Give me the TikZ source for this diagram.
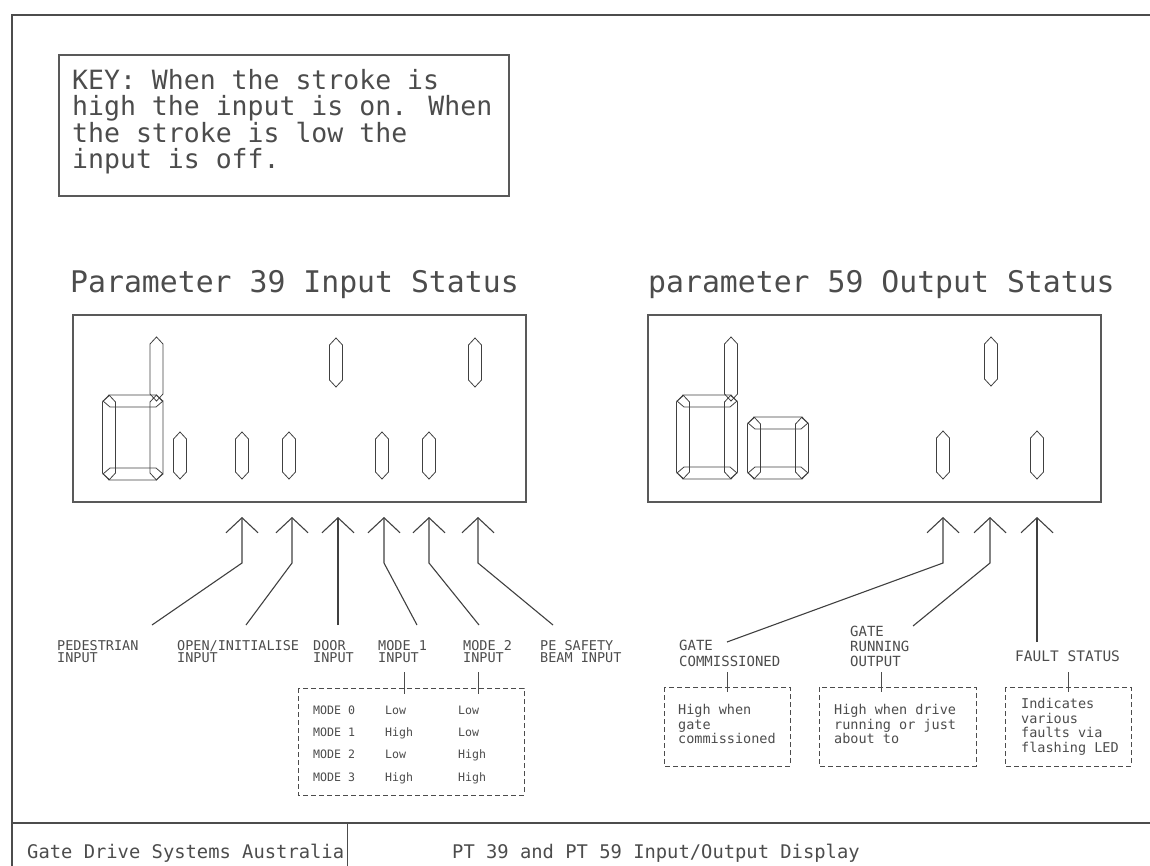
\documentclass[tikz,border=0pt]{standalone}
\usepackage{fontspec}
\newfontfamily\cadfont{DejaVu Sans Mono}
\usetikzlibrary{arrows.meta}

% one lit stroke of the display, vertical or horizontal
\newcommand{\vstroke}[3]{\draw[seg] (#1-6.5,#2+7) -- (#1,#2) -- (#1+6.5,#2+7) -- (#1+6.5,#3-7) -- (#1,#3) -- (#1-6.5,#3-7) -- cycle;}
\newcommand{\hstroke}[3]{\draw[seg] (#2+7,#1-6) -- (#2,#1) -- (#2+7,#1+6) -- (#3-7,#1+6) -- (#3,#1) -- (#3-7,#1-6) -- cycle;}

\begin{document}
\begin{tikzpicture}[x=1pt,y=-1pt,
    seg/.style={draw=black!75,line width=0.8pt},
    panel/.style={draw=black!65,line width=1.4pt},
    frame/.style={draw=black!70,line width=1.5pt},
    pointer/.style={draw=black!75,line width=1.1pt,-{Straight Barb[length=15pt,width=32pt]}},
    legend/.style={draw=black!70,line width=0.9pt,dash pattern=on 5pt off 3pt},
    tick/.style={draw=black!70,line width=0.9pt},
    txt/.style={inner sep=0pt,align=left,text=black!70},
    lbl/.style={txt,anchor=north west,font=\cadfont\fontsize{13.5}{12}\selectfont},
    note/.style={txt,anchor=north west,font=\cadfont\fontsize{13.5}{14.7}\selectfont},
    cell/.style={txt,anchor=base west,font=\cadfont\fontsize{11.6}{12}\selectfont}]
  \useasboundingbox (0,0) rectangle (1150,866);

  % drawing frame and title block
  \draw[frame] (1150,15) -- (12,15) -- (12,866);
  \draw[frame] (12,823) -- (1150,823);
  \draw[frame,line width=1pt] (347,823) -- (347,866);
  \node[txt,anchor=base west,font=\cadfont\fontsize{18.8}{20}\selectfont] (company) at (27,858) {Gate Drive Systems Australia};
  \node[txt,anchor=base west,font=\cadfont\fontsize{18.8}{20}\selectfont] (sheet) at (452,858) {PT 39 and PT 59 Input/Output Display};

  % key
  \draw[panel] (59,55) rectangle (509,196);
  \node[txt,anchor=north west,font=\cadfont\fontsize{26.5}{26.5}\selectfont] (key) at (72,69)
    {KEY: When the stroke is\\high the input is on. When\\the stroke is low the\\input is off.};

  % titles
  \node[txt,anchor=base west,font=\cadfont\fontsize{29.8}{30}\selectfont] (intitle) at (70,293) {Parameter 39 Input Status};
  \node[txt,anchor=base west,font=\cadfont\fontsize{29.8}{30}\selectfont] (outtitle) at (648,293) {parameter 59 Output Status};

  % parameter 39 display
  \draw[panel] (73,315) rectangle (526,502);
  \vstroke{156.5}{337}{401}
  \hstroke{401}{103}{163}
  \hstroke{474}{103}{163}
  \vstroke{109}{395}{480}
  \vstroke{156.5}{395}{480}
  \foreach \x in {180,242,289,382,429} {\vstroke{\x}{432}{479}}
  \foreach \x in {336,475} {\vstroke{\x}{338}{387}}

  % parameter 59 display
  \draw[panel] (648,315) rectangle (1101,502);
  \vstroke{731}{337}{401}
  \hstroke{401}{677}{737}
  \hstroke{473}{677}{737}
  \vstroke{683}{395}{479}
  \vstroke{731}{395}{479}
  \hstroke{423}{748}{808}
  \hstroke{473}{748}{808}
  \vstroke{754}{417}{479}
  \vstroke{802}{417}{479}
  \vstroke{991}{337}{386}
  \foreach \x in {943,1037} {\vstroke{\x}{431}{479}}

  % input labels
  \node[lbl] (ped) at (57,640) {PEDESTRIAN\\INPUT};
  \node[lbl] (open) at (177,640) {OPEN/INITIALISE\\INPUT};
  \node[lbl] (door) at (313,640) {DOOR\\INPUT};
  \node[lbl] (mode1) at (378,640) {MODE 1\\INPUT};
  \node[lbl] (mode2) at (463,640) {MODE 2\\INPUT};
  \node[lbl] (pe) at (540,640) {PE SAFETY\\BEAM INPUT};

  % input arrows: foot, bend, tip
  \foreach \n/\fx/\kx in {ped/152/242, open/246/292, door/338/338, mode1/417/384, mode2/479/429, pe/553/478} {
    \coordinate (\n foot) at (\fx,625);
    \coordinate (\n bend) at (\kx,563);
    \coordinate (\n tip) at (\kx,517);
    \draw[pointer] (\n foot) -- (\n bend) -- (\n tip);
  }

  % mode table
  \draw[legend] (298,688) rectangle (524,795);
  \draw[tick] (404,672) -- (404,694);
  \draw[tick] (478,672) -- (478,694);
  \foreach \m/\a/\b [count=\i from 0] in {0/Low/Low, 1/High/Low, 2/Low/High, 3/High/High} {
    \node[cell] (mode\m) at (313,714.3+22.3*\i) {MODE \m};
    \node[cell] (first\m) at (385,714.3+22.3*\i) {\a};
    \node[cell] (second\m) at (458,714.3+22.3*\i) {\b};
  }

  % output labels
  \node[lbl,font=\cadfont\fontsize{14}{16}\selectfont] (comm) at (679,640) {GATE\\COMMISSIONED};
  \node[lbl,font=\cadfont\fontsize{14}{15}\selectfont] (run) at (850,626) {GATE\\RUNNING\\OUTPUT};
  \node[lbl,font=\cadfont\fontsize{14.5}{15}\selectfont] (fault) at (1015,651) {FAULT STATUS};

  % output arrows
  \coordinate (comm foot) at (727,642);
  \coordinate (comm bend) at (943,563);
  \coordinate (comm tip) at (943,517);
  \coordinate (run foot) at (913,626);
  \coordinate (run bend) at (990,563);
  \coordinate (run tip) at (990,517);
  \coordinate (fault foot) at (1037,642);
  \coordinate (fault tip) at (1037,517);
  \draw[pointer] (comm foot) -- (comm bend) -- (comm tip);
  \draw[pointer] (run foot) -- (run bend) -- (run tip);
  \draw[pointer] (fault foot) -- (fault tip);

  % output notes
  \draw[legend] (664,687) rectangle (790,766);
  \draw[legend] (819,687) rectangle (976,766);
  \draw[legend] (1005,687) rectangle (1131,766);
  \draw[tick] (727,672) -- (727,692);
  \draw[tick] (881,672) -- (881,692);
  \draw[tick] (1068,672) -- (1068,692);
  \node[note] (commnote) at (678,704) {High when\\gate\\commissioned};
  \node[note] (runnote) at (834,704) {High when drive\\running or just\\about to};
  \node[note] (faultnote) at (1021,698) {Indicates\\various\\faults via\\flashing LED};
\end{tikzpicture}
\end{document}
